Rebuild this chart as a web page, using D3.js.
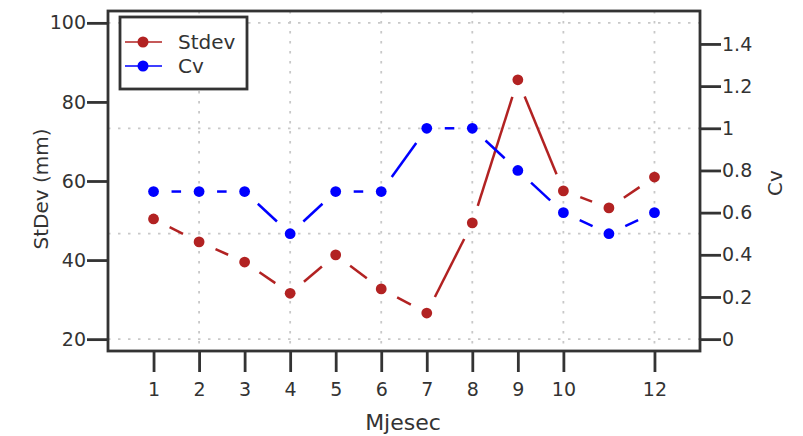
<!DOCTYPE html>
<html>
<head>
<meta charset="utf-8">
<script src="https://cdn.jsdelivr.net/npm/d3@7"></script>
<style>
  html, body { margin: 0; padding: 0; background: #fff; }
  svg { display: block; }
  text { font-family: "DejaVu Sans", sans-serif; fill: #333; }
</style>
</head>
<body>
<svg id="chart" width="803" height="436"></svg>
<script>
// ---- data ----
const months = [1, 2, 3, 4, 5, 6, 7, 8, 9, 10, 11, 12];
const stdevValues = [50.4, 44.6, 39.5, 31.6, 41.3, 32.7, 26.6, 49.4, 85.6, 57.5, 53.2, 61.0];
const cvValues = [0.7, 0.7, 0.7, 0.5, 0.7, 0.7, 1.0, 1.0, 0.8, 0.6, 0.5, 0.6];
const xTickValues = [1, 2, 3, 4, 5, 6, 7, 8, 9, 10, 12];
const leftTickValues = [20, 40, 60, 80, 100];
const rightTickValues = [0, 0.2, 0.4, 0.6, 0.8, 1, 1.2, 1.4];
const gridXValues = [2, 4, 6, 8, 10, 12];
const gridCvValues = [0, 0.5, 1, 1.5];
const seriesNames = ["Stdev", "Cv"];

// ---- layout ----
const svg = d3.select("#chart");
const L = 108, R = 700, T = 11, B = 351;
const ink = "#333";
const red = "#b22222", blue = "#0000ff";

const x = d3.scaleLinear().domain([0, 13]).range([L, R]);
const yL = d3.scaleLinear().domain([17, 103]).range([B, T]);
// Cv axis: 0 aligns with 20, 1.5 aligns with 100
const cvOf = v => (v - 20) / 80 * 1.5;
const yR = d3.scaleLinear().domain([cvOf(17), cvOf(103)]).range([B, T]);

// grid
const grid = svg.append("g");
grid.selectAll("line.gx").data(gridXValues).join("line")
  .attr("x1", d => x(d)).attr("x2", d => x(d))
  .attr("y1", T).attr("y2", B)
  .attr("stroke", "#c8c8c8").attr("stroke-width", 1.8).attr("stroke-dasharray", "2.5,7.5");
grid.selectAll("line.gy").data(gridCvValues).join("line")
  .attr("x1", L).attr("x2", R)
  .attr("y1", d => yR(d)).attr("y2", d => yR(d))
  .attr("stroke", "#c8c8c8").attr("stroke-width", 1.8).attr("stroke-dasharray", "2.5,7.5");

// axes
function styleAxis(g) {
  g.select(".domain").remove();
  g.selectAll(".tick line").attr("stroke", ink).attr("stroke-width", 2.8);
  g.selectAll(".tick text").attr("fill", ink).style("font-size", "19px")
    .style("font-family", "DejaVu Sans, sans-serif");
}
svg.append("g").attr("transform", `translate(${L},0)`)
  .call(d3.axisLeft(yL).tickValues(leftTickValues).tickSize(21).tickPadding(1).tickFormat(d3.format("d")))
  .call(styleAxis);
svg.append("g").attr("transform", `translate(${R},0)`)
  .call(d3.axisRight(yR).tickValues(rightTickValues).tickSize(21).tickPadding(1).tickFormat(d => d3.format("~g")(d)))
  .call(styleAxis);
svg.append("g").attr("transform", `translate(0,${B})`)
  .call(d3.axisBottom(x).tickValues(xTickValues).tickSize(21).tickPadding(11).tickFormat(d3.format("d")))
  .call(styleAxis);

// frame
svg.append("rect").attr("x", L).attr("y", T).attr("width", R - L).attr("height", B - T)
  .attr("fill", "none").attr("stroke", ink).attr("stroke-width", 2.8);

// series: segments with gaps around markers
const GAP = 18;
function drawSeries(vals, yScale, color) {
  const pts = months.map((m, i) => [x(m), yScale(vals[i])]);
  const g = svg.append("g");
  for (let i = 0; i < pts.length - 1; i++) {
    const [x1, y1] = pts[i], [x2, y2] = pts[i + 1];
    const len = Math.hypot(x2 - x1, y2 - y1);
    if (len <= 2 * GAP) continue;
    const ux = (x2 - x1) / len, uy = (y2 - y1) / len;
    g.append("line")
      .attr("x1", x1 + ux * GAP).attr("y1", y1 + uy * GAP)
      .attr("x2", x2 - ux * GAP).attr("y2", y2 - uy * GAP)
      .attr("stroke", color).attr("stroke-width", 2.5).attr("stroke-linecap", "butt");
  }
  g.selectAll("circle").data(pts).join("circle")
    .attr("cx", d => d[0]).attr("cy", d => d[1]).attr("r", 5.4).attr("fill", color);
}
drawSeries(stdevValues, yL, red);
drawSeries(cvValues, yR, blue);

// axis titles
svg.append("text").attr("transform", "translate(48,189) rotate(-90)")
  .attr("text-anchor", "middle").style("font-size", "20px").text("StDev (mm)");
svg.append("text").attr("transform", "translate(782,183) rotate(-90)")
  .attr("text-anchor", "middle").style("font-size", "20px").text("Cv");
svg.append("text").attr("x", 403).attr("y", 430)
  .attr("text-anchor", "middle").style("font-size", "22px").text("Mjesec");

// legend
const lg = svg.append("g");
lg.append("rect").attr("x", 120).attr("y", 17).attr("width", 127).attr("height", 72)
  .attr("fill", "#fff").attr("stroke", ink).attr("stroke-width", 2.8);
const legendColors = [red, blue];
seriesNames.forEach((name, i) => {
  const cy = 42 + i * 24;
  lg.append("line").attr("x1", 125).attr("x2", 162).attr("y1", cy).attr("y2", cy)
    .attr("stroke", legendColors[i]).attr("stroke-width", 2).attr("opacity", 0.75);
  lg.append("circle").attr("cx", 143).attr("cy", cy).attr("r", 5.5).attr("fill", legendColors[i]);
  lg.append("text").attr("x", 178).attr("y", cy + 7).style("font-size", "20px").text(name);
});
</script>
</body>
</html>
